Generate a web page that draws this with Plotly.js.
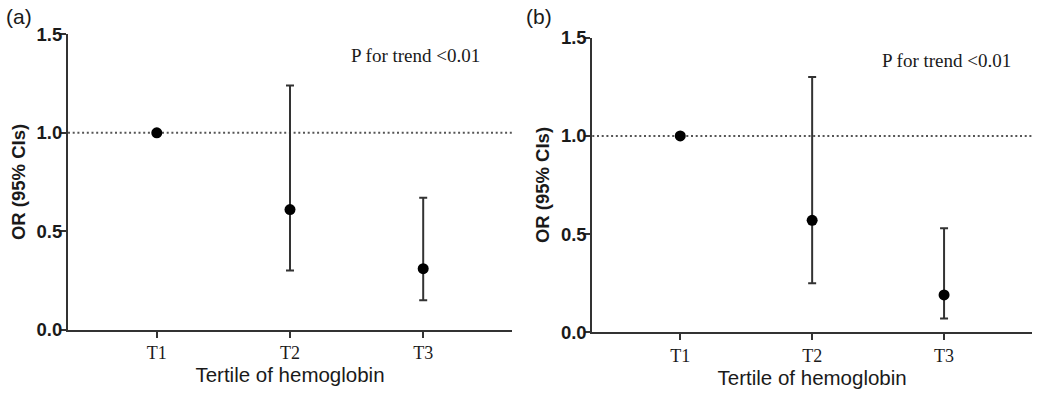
<!DOCTYPE html>
<html>
<head>
<meta charset="utf-8">
<script src="https://cdn.plot.ly/plotly-3.0.1.min.js"></script>
<style>html,body{margin:0;padding:0;background:#fff;}#chart{width:1038px;height:394px;}</style>
</head>
<body>
<div id="chart"></div>
<script>
// Data
const categories = ["T1", "T2", "T3"];
const catPos = [1, 2, 3];
// Panel (a)
const orA = [1.0, 0.61, 0.31];
const upperA = [1.0, 1.24, 0.67];
const lowerA = [1.0, 0.30, 0.15];
// Panel (b)
const orB = [1.0, 0.57, 0.19];
const upperB = [1.0, 1.30, 0.53];
const lowerB = [1.0, 0.25, 0.07];
const yTicks = [0, 0.5, 1.0, 1.5];
const panelLabels = ["(a)", "(b)"];
const pText = "P for trend <0.01";
const refLine = 1.0;

const axisColor = "#333";
const inkColor = "#1a1a1a";

function makeTrace(or, up, lo, xa, ya) {
  return {
    type: "scatter", mode: "markers",
    x: catPos, y: or, xaxis: xa, yaxis: ya,
    marker: {color: "#000", size: 11, symbol: "circle"},
    error_y: {
      type: "data", symmetric: false,
      array: up.map((u, i) => u - or[i]),
      arrayminus: lo.map((l, i) => or[i] - l),
      color: axisColor, thickness: 2, width: 4
    },
    showlegend: false, hoverinfo: "x+y"
  };
}

const data = [
  makeTrace(orA, upperA, lowerA, "x", "y"),
  makeTrace(orB, upperB, lowerB, "x2", "y2")
];

function xAxis(domain, anchor) {
  return {
    domain: domain, anchor: anchor, range: [1/3, 3 + 2/3],
    tickvals: catPos, ticktext: categories,
    showline: true, linecolor: axisColor, linewidth: 2,
    ticks: "outside", ticklen: 6, tickwidth: 2, tickcolor: axisColor,
    showgrid: false, zeroline: false,
    tickfont: {family: "Liberation Serif, Times New Roman, serif", size: 18, color: inkColor},
    title: {text: "Tertile of hemoglobin", font: {family: "Liberation Sans, Arial, sans-serif", size: 20.5, color: inkColor}, standoff: 1},
    fixedrange: true
  };
}
function yAxis(domain, anchor) {
  return {
    domain: domain, anchor: anchor, range: [0, 1.5],
    tickvals: yTicks, tickformat: ".1f",
    showline: true, linecolor: axisColor, linewidth: 2,
    ticks: "outside", ticklen: 6, tickwidth: 2, tickcolor: axisColor,
    showgrid: false, zeroline: false,
    ticklabelstandoff: -6,
    tickfont: {family: "Liberation Sans, Arial, sans-serif", size: 18.5, weight: "bold", color: inkColor},
    title: {text: "OR (95% CIs)", font: {family: "Liberation Sans, Arial, sans-serif", size: 18.5, weight: "bold", color: inkColor}, standoff: 6},
    fixedrange: true
  };
}

const dotLine = {color: "#555", width: 2, dash: "2px,2.7px"};

const layout = {
  width: 1038, height: 394,
  margin: {l: 0, r: 0, t: 0, b: 0},
  paper_bgcolor: "#fff", plot_bgcolor: "#fff",
  xaxis: xAxis([68/1038, 512/1038], "y"),
  yaxis: yAxis([1 - 329.7/394, 1 - 34.3/394], "x"),
  xaxis2: xAxis([592.3/1038, 1032/1038], "y2"),
  yaxis2: yAxis([1 - 332.3/394, 1 - 37.7/394], "x2"),
  shapes: [
    {type: "line", xref: "x domain", yref: "y", x0: 0, x1: 1, y0: refLine, y1: refLine, line: dotLine, layer: "below"},
    {type: "line", xref: "x2 domain", yref: "y2", x0: 0, x1: 1, y0: refLine, y1: refLine, line: dotLine, layer: "below"}
  ],
  annotations: [
    {text: panelLabels[0], xref: "paper", yref: "paper", x: 4/1038, y: 1 - 17/394, xanchor: "left", yanchor: "middle",
     showarrow: false, font: {family: "Liberation Sans, Arial, sans-serif", size: 21, color: inkColor}},
    {text: panelLabels[1], xref: "paper", yref: "paper", x: 524/1038, y: 1 - 16/394, xanchor: "left", yanchor: "middle",
     showarrow: false, font: {family: "Liberation Sans, Arial, sans-serif", size: 21, color: inkColor}},
    {text: pText, xref: "paper", yref: "paper", x: 349/1038, y: 1 - 55/394, xanchor: "left", yanchor: "middle",
     showarrow: false, font: {family: "Liberation Serif, Times New Roman, serif", size: 19, color: inkColor}},
    {text: pText, xref: "paper", yref: "paper", x: 880/1038, y: 1 - 61/394, xanchor: "left", yanchor: "middle",
     showarrow: false, font: {family: "Liberation Serif, Times New Roman, serif", size: 19, color: inkColor}}
  ]
};

Plotly.newPlot("chart", data, layout, {displayModeBar: false, staticPlot: true});
</script>
</body>
</html>
